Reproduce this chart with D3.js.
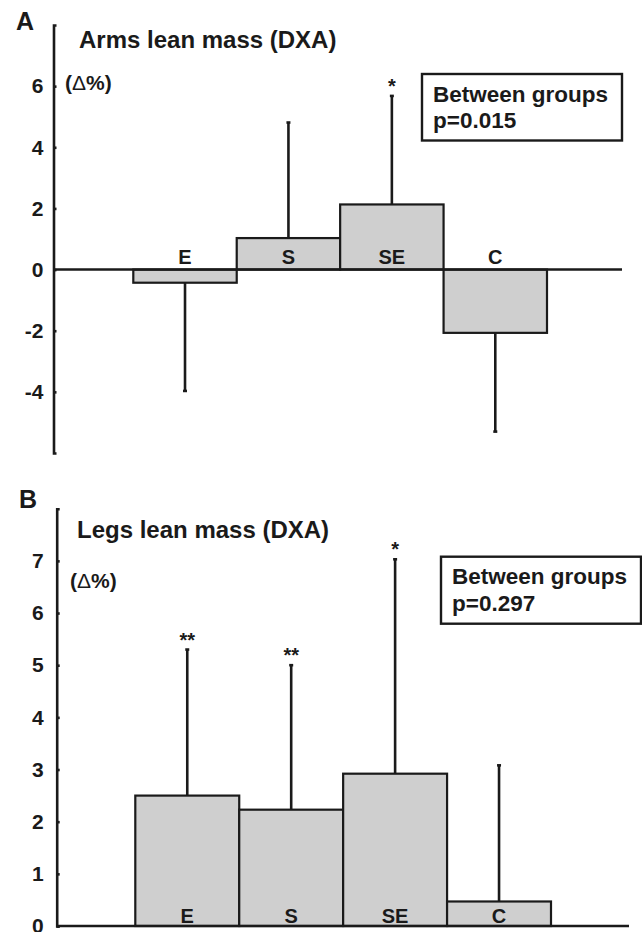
<!DOCTYPE html>
<meta charset="utf-8">
<html>
<style>
  body { margin: 0; background: #fff; }
  svg text { font-family: "Liberation Sans", Arial, sans-serif; font-weight: bold; fill: #1a1a1a; }
</style>
<body>
<div id="plot"></div>
<script src="https://d3js.org/d3.v7.min.js"></script>
<script>
// data
const groups = ["E", "S", "SE", "C"];

const armsMean = [-0.43, 1.03, 2.13, -2.07];
const armsSD = [3.54, 3.78, 3.55, 3.23];
const armsStars = ["", "", "*", ""];
const armsTicks = [-4, -2, 0, 2, 4, 6];

const legsMean = [2.50, 2.23, 2.92, 0.47];
const legsSD = [2.80, 2.77, 4.11, 2.61];
const legsStars = ["**", "**", "*", ""];
const legsTicks = [0, 1, 2, 3, 4, 5, 6, 7];

const ink = "#1a1a1a";
const barFill = "#cfcfcf";

const svg = d3.select("#plot").append("svg")
  .attr("width", 642)
  .attr("height", 932);

function panel(opt) {
  const g = svg.append("g");
  const y = d3.scaleLinear().domain(opt.domain).range([opt.bottom, opt.top]);
  const x = d3.scaleBand().domain(groups).range(opt.barRange).padding(0);

  const data = groups.map((k, i) => ({ k: k, m: opt.mean[i], sd: opt.sd[i], star: opt.stars[i] }));

  // error bars (one-sided, away from zero)
  data.forEach(d => {
    const cx = x(d.k) + x.bandwidth() / 2;
    const end = d.m >= 0 ? d.m + d.sd : d.m - d.sd;
    g.append("line")
      .attr("x1", cx).attr("x2", cx)
      .attr("y1", y(d.m)).attr("y2", y(end))
      .attr("stroke", ink).attr("stroke-width", 2.6);
    g.append("line")
      .attr("x1", cx - 2).attr("x2", cx + 2)
      .attr("y1", y(end)).attr("y2", y(end))
      .attr("stroke", ink).attr("stroke-width", 2.6);
    if (d.star) {
      g.append("text")
        .attr("x", cx)
        .attr("y", y(end) - 3)
        .attr("text-anchor", "middle")
        .attr("font-size", 20)
        .text(d.star);
    }
  });

  g.selectAll("rect.bar")
    .data(data)
    .join("rect")
    .attr("class", "bar")
    .attr("x", d => x(d.k))
    .attr("width", x.bandwidth())
    .attr("y", d => y(Math.max(0, d.m)))
    .attr("height", d => Math.abs(y(d.m) - y(0)))
    .attr("fill", barFill)
    .attr("stroke", ink)
    .attr("stroke-width", 2.2);

  // zero line / x axis
  g.append("line")
    .attr("x1", opt.axisX).attr("x2", opt.axisEnd)
    .attr("y1", y(0)).attr("y2", y(0))
    .attr("stroke", ink).attr("stroke-width", 2.6);

  // y axis
  const ax = g.append("g")
    .attr("transform", "translate(" + opt.axisX + ",0)")
    .call(d3.axisLeft(y).tickValues(opt.ticks).tickSize(-3).tickSizeOuter(-3).tickPadding(10).tickFormat(d => String(d)));
  ax.select(".domain").attr("stroke", ink).attr("stroke-width", 2.6);
  ax.selectAll(".tick line").attr("stroke", ink).attr("stroke-width", 2.6);
  ax.selectAll(".tick text")
    .attr("font-size", 21)
    .attr("font-family", "\"Liberation Sans\", Arial, sans-serif")
    .attr("font-weight", "bold")
    .attr("fill", ink)
    .attr("dx", opt.tickDx);

  // group labels
  g.selectAll("text.lab")
    .data(data)
    .join("text")
    .attr("class", "lab")
    .attr("x", d => x(d.k) + x.bandwidth() / 2)
    .attr("y", opt.labelY)
    .attr("text-anchor", "middle")
    .attr("font-size", 20)
    .text(d => d.k);

  // panel letter, title, unit
  g.append("text").attr("x", opt.letterX).attr("y", opt.letterY)
    .attr("font-size", 25).text(opt.letter);
  g.append("text").attr("x", opt.titleX).attr("y", opt.titleY)
    .attr("font-size", 24).text(opt.title);
  const unit = g.append("text").attr("x", opt.unitX).attr("y", opt.unitY)
    .attr("font-size", 21);
  unit.append("tspan").text("(");
  unit.append("tspan").attr("font-weight", "normal").text("\u0394");
  unit.append("tspan").text("%)");

  // legend box
  const b = opt.box;
  g.append("rect")
    .attr("x", b[0]).attr("y", b[1]).attr("width", b[2]).attr("height", b[3])
    .attr("fill", "#fff").attr("stroke", ink).attr("stroke-width", 2.4);
  g.append("text").attr("x", b[0] + 11).attr("y", b[1] + 27.5)
    .attr("font-size", 22.5).text("Between groups");
  g.append("text").attr("x", b[0] + 11).attr("y", b[1] + 54)
    .attr("font-size", 22.5).text(opt.pText);
}

panel({
  letter: "A", letterX: 16, letterY: 30,
  title: "Arms lean mass (DXA)", titleX: 79, titleY: 48,
  unitX: 65, unitY: 90,
  domain: [-6, 8], top: 25, bottom: 453,
  barRange: [133.3, 547], axisX: 53.5, axisEnd: 622,
  mean: armsMean, sd: armsSD, stars: armsStars, ticks: armsTicks,
  labelY: 263.5, tickDx: 0,
  box: [422, 74, 200, 66.5], pText: "p=0.015"
});

panel({
  letter: "B", letterX: 19, letterY: 508,
  title: "Legs lean mass (DXA)", titleX: 77, titleY: 538,
  unitX: 70, unitY: 588,
  domain: [0, 8], top: 508.7, bottom: 926,
  barRange: [135.3, 551], axisX: 56.7, axisEnd: 629,
  mean: legsMean, sd: legsSD, stars: legsStars, ticks: legsTicks,
  labelY: 922.7, tickDx: -3,
  box: [441, 556.7, 200, 67], pText: "p=0.297"
});
</script>
</body>
</html>
